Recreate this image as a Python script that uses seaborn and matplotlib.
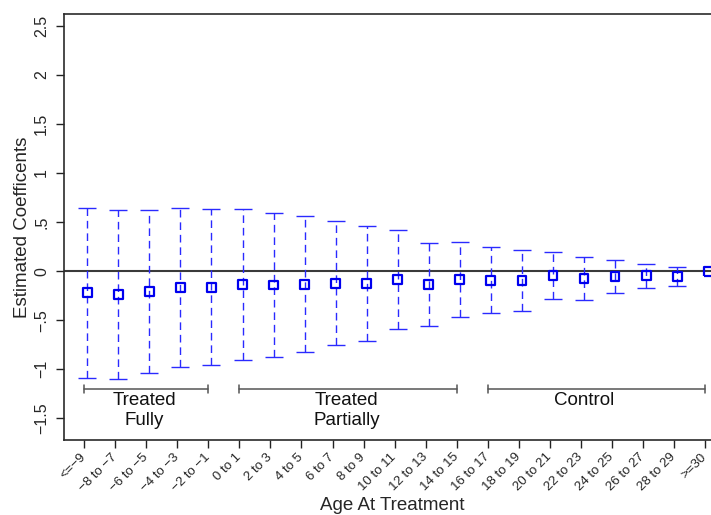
import numpy as np
import pandas as pd
import matplotlib
matplotlib.use("Agg")
import matplotlib.pyplot as plt
import seaborn as sns

categories = ["<=\u22129", "\u22128 to \u22127", "\u22126 to \u22125", "\u22124 to \u22123", "\u22122 to \u22121",
              "0 to 1", "2 to 3", "4 to 5", "6 to 7", "8 to 9", "10 to 11", "12 to 13",
              "14 to 15", "16 to 17", "18 to 19", "20 to 21", "22 to 23", "24 to 25",
              "26 to 27", "28 to 29", ">=30"]
coef = [-0.22, -0.24, -0.21, -0.17, -0.163, -0.136, -0.14, -0.136, -0.122, -0.122,
        -0.085, -0.133, -0.082, -0.092, -0.095, -0.041, -0.075, -0.054, -0.048, -0.051, 0.0]
upper = [0.646, 0.62, 0.62, 0.64, 0.63, 0.63, 0.595, 0.56, 0.51, 0.46,
         0.42, 0.29, 0.30, 0.245, 0.22, 0.20, 0.146, 0.112, 0.078, 0.044, np.nan]
lower = [-1.09, -1.10, -1.04, -0.98, -0.96, -0.905, -0.87, -0.82, -0.755, -0.71,
         -0.59, -0.56, -0.47, -0.43, -0.41, -0.28, -0.29, -0.22, -0.17, -0.146, np.nan]
ytick_vals = [-1.5, -1, -0.5, 0, 0.5, 1, 1.5, 2, 2.5]
ytick_labels = ["\u22121.5", "\u22121", "\u2212.5", "0", ".5", "1", "1.5", "2", "2.5"]
groups = ["Treated\nFully", "Treated\nPartially", "Control"]
group_start = [0, 5, 13]
group_end = [4, 12, 20]
group_text_x = [1.93, 8.45, 16.1]

df = pd.DataFrame({"pos": np.arange(len(categories)), "cat": categories,
                   "coef": coef, "upper": upper, "lower": lower})

# ticks (and brackets) sit slightly left of the plotted points, as in the reference
tick_shift = -0.1

sns.set_style("ticks")
plt.rcParams["font.family"] = ["Liberation Sans", "DejaVu Sans"]

fig = plt.figure(figsize=(7.11, 5.15), dpi=100)
ax = fig.add_axes([64.3 / 711, 75 / 515, (710.7 - 64.3) / 711, 426 / 515])

# zero line
ax.axhline(0, color="#3a3a3a", lw=1.5, zorder=1)

# error bars
err = np.vstack([df["coef"] - df["lower"], df["upper"] - df["coef"]])
eb = ax.errorbar(df["pos"], df["coef"], yerr=err, fmt="none", ecolor="#2a2aff",
                 elinewidth=1.0, capsize=6.5, capthick=1.0, zorder=2)
for lc in eb.lines[2]:
    lc.set_linestyle((0, (5.5, 3.5)))

# markers
sns.scatterplot(data=df, x="pos", y="coef", marker="s", s=40, facecolor="none",
                edgecolor="#0000ee", linewidth=1.6, ax=ax, zorder=3, legend=False)

# group brackets
for gs, ge, gt, tx in zip(group_start, group_end, groups, group_text_x):
    xs, xe_ = gs + tick_shift, ge + tick_shift
    ax.plot([xs, xe_], [-1.2, -1.2], color="#555555", lw=1.1, zorder=1)
    for xe in (xs, xe_):
        ax.plot([xe, xe], [-1.16, -1.24], color="#555555", lw=1.1, zorder=1)
    lines = gt.split("\n")
    for i, ln in enumerate(lines):
        ax.text(tx + tick_shift, -1.316 - 0.205 * i, ln, ha="center", va="center",
                fontsize=13.5, color="#111111")

ax.set_xlim(-0.74, 20.08)
ax.set_ylim(-1.72, 2.62)
ax.set_xticks(df["pos"] + tick_shift)
ax.set_xticklabels(categories, rotation=45, ha="right", va="center", rotation_mode="anchor",
                   fontsize=9.5)
ax.set_yticks(ytick_vals)
ax.set_yticklabels(ytick_labels, rotation=90, va="center", fontsize=11.5)
ax.tick_params(axis="both", direction="out", length=6, width=1, color="#222222")
ax.tick_params(axis="x", pad=5)
ax.tick_params(axis="y", pad=5)
ax.set_xlabel("Age At Treatment", fontsize=13.5)
ax.xaxis.label.set_va("center")
ax.xaxis.set_label_coords(0.507, -0.153)
ax.set_ylabel("Estimated Coefficents", fontsize=13.5, labelpad=2)
for sp in ax.spines.values():
    sp.set_color("#2a2a2a")
    sp.set_linewidth(1.2)
ax.spines["right"].set_visible(False)

fig.savefig("out.png", dpi=100)
